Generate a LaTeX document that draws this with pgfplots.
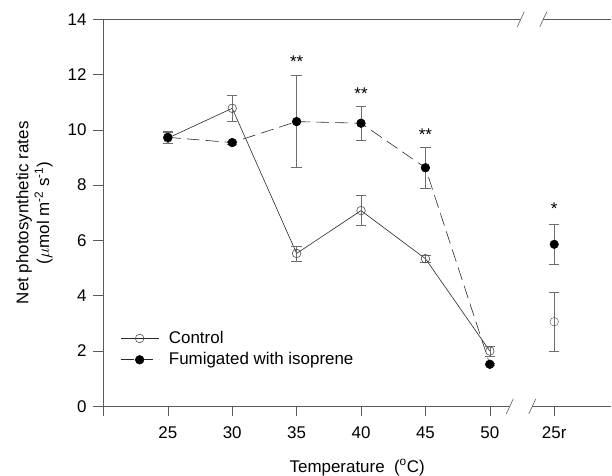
\documentclass[border=0pt]{standalone}
\usepackage{pgfplots}
\pgfplotsset{compat=1.18}
\usepackage{fontspec}
\setmainfont{Liberation Sans}
\definecolor{axgray}{RGB}{90,90,90}
\definecolor{ebgray}{RGB}{110,110,110}
\definecolor{lndark}{RGB}{40,40,40}
\begin{document}
\fontsize{17}{20}\selectfont
\begin{tikzpicture}
\path[use as bounding box] (0,0) rectangle (612bp,476bp);
\begin{axis}[
  at={(103.4bp,69.7bp)}, anchor=south west,
  scale only axis, width=507.5bp, height=387bp,
  xmin=-1, xmax=6.88, ymin=0, ymax=14,
  clip=false,
  axis line style={draw=none},
  xtick={-1,0,1,2,3,4,5,6},
  xticklabels={,25,30,35,40,45,50,25r},
  ytick={0,2,4,6,8,10,12,14},
  xtick pos=left, ytick pos=left,
  tick align=outside,
  major tick length=10bp,
  tick style={axgray, line width=0.6pt},
  /pgf/number format/assume math mode=true,
  tick label style={font=\fontsize{17}{20}\selectfont},
  xticklabel style={yshift=-5bp},
  yticklabel style={xshift=-1bp},
  xlabel={Temperature\ \ (\textsuperscript{o}C)},
  xlabel style={at={(axis description cs:0.5,-0.158)}, anchor=center, font=\fontsize{17}{20}\selectfont},
  ylabel={Net photosynthetic rates\\($\mu$mol m\textsuperscript{-2} s\textsuperscript{-1})},
  ylabel style={at={(axis description cs:-0.136,0.5)}, anchor=center, align=center, font=\fontsize{17}{21}\selectfont},
  legend style={at={(axis cs:-0.74,2.80)}, anchor=north west, draw=none, fill=none,
    font=\fontsize{17}{20}\selectfont, row sep=2.5bp, inner sep=0pt},
  legend cell align=left,
  legend image code/.code={\draw[mark repeat=2,mark phase=2,#1] plot coordinates {(0bp,0bp)(19bp,0bp)(38bp,0bp)};\path (46bp,0bp);},
  error bars/y dir=both, error bars/y explicit,
  error bars/error bar style={ebgray, line width=0.6pt, solid},
  error bars/error mark options={rotate=90, ebgray, mark size=5.2bp, line width=0.6pt, solid},
]
% Control
\addplot[lndark, line width=0.6pt, mark=o, mark size=4.3bp, mark options={solid, fill=white, draw=black!70}]
  table[x=x, y=y, y error=e] {
x y e
0 9.70 0.20
1 10.78 0.48
2 5.53 0.27
3 7.08 0.55
4 5.34 0.12
5 2.00 0.18
};
\addlegendentry{Control}
% Fumigated
\addplot[lndark, line width=0.6pt, dash pattern=on 13bp off 6bp, mark=*, mark size=4.3bp, mark options={solid, fill=black, draw=black}]
  table[x=x, y=y, y error=e] {
x y e
0 9.73 0.21
1 9.54 0.05
2 10.30 1.67
3 10.24 0.62
4 8.63 0.74
5 1.52 0.05
};
\addlegendentry{Fumigated with isoprene}
% 25r points
\addplot[only marks, mark=o, mark size=4.3bp, mark options={solid, fill=white, draw=black!70}, forget plot]
  table[x=x, y=y, y error=e] {
x y e
6 3.06 1.07
};
\addplot[only marks, mark=*, mark size=4.3bp, mark options={solid, fill=black, draw=black}, forget plot]
  table[x=x, y=y, y error=e] {
x y e
6 5.86 0.73
};
% significance stars
\node at (axis cs:2,12.48) {**};
\node at (axis cs:3,11.31) {**};
\node at (axis cs:4,9.83) {**};
\node at (axis cs:6,7.15) {*};
% axis lines with breaks
\draw[axgray, line width=0.7pt] (axis cs:-1,0) -- (axis cs:-1,14);
\draw[axgray, line width=0.7pt] (axis cs:-1,0) -- (axis cs:5.31,0);
\draw[axgray, line width=0.7pt] (axis cs:5.66,0) -- (axis cs:6.88,0);
\draw[axgray, line width=0.7pt] (axis cs:-1,14) -- (axis cs:5.48,14);
\draw[axgray, line width=0.7pt] (axis cs:5.83,14) -- (axis cs:6.88,14);
\draw[axgray, line width=0.6pt] (axis cs:5.31,0) ++(-3.5bp,-7.5bp) -- ++(7bp,15bp);
\draw[axgray, line width=0.6pt] (axis cs:5.66,0) ++(-3.5bp,-7.5bp) -- ++(7bp,15bp);
\draw[axgray, line width=0.6pt] (axis cs:5.48,14) ++(-3.5bp,-7.5bp) -- ++(7bp,15bp);
\draw[axgray, line width=0.6pt] (axis cs:5.83,14) ++(-3.5bp,-7.5bp) -- ++(7bp,15bp);
\end{axis}
\end{tikzpicture}
\end{document}
